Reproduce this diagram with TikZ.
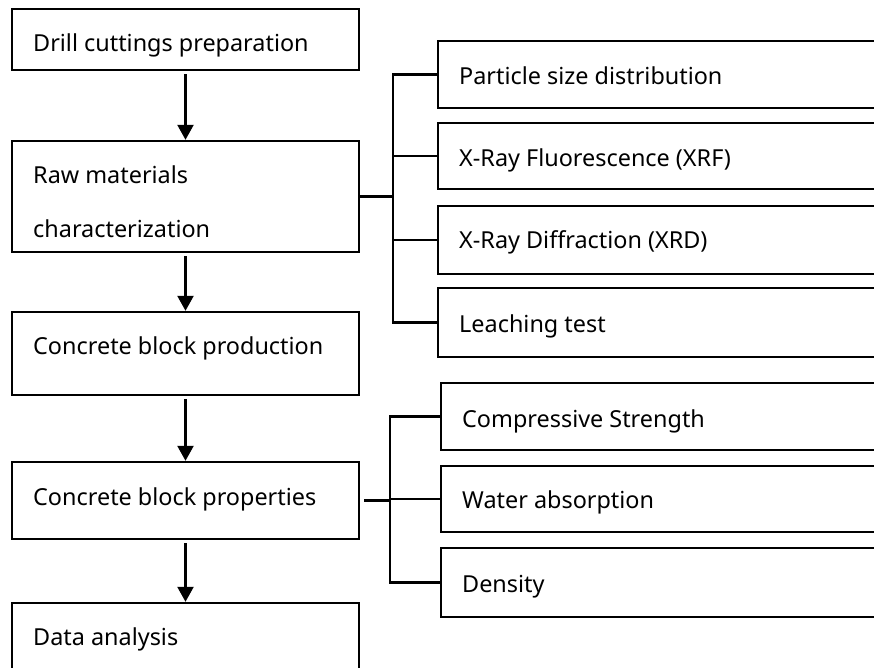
\documentclass[tikz,border=0pt]{standalone}
\usepackage{fontspec}
\setmainfont{Noto Sans}
\usetikzlibrary{arrows.meta}
\tikzset{
  box/.style={draw, line width=2.4pt, rectangle, inner sep=0pt},
  txt/.style={anchor=base west, inner sep=0pt, font=\fontsize{23.4}{28}\selectfont},
  link/.style={line width=2.4pt},
  flow/.style={line width=2.4pt, -{Triangle[width=16pt,length=15pt]}, shorten <=3pt}
}
\begin{document}
\begin{tikzpicture}[x=1pt,y=-1pt]
\useasboundingbox (0,0) rectangle (874,668);
\clip (0,0) rectangle (874,668);
% left column boxes
\node[box, minimum width=347pt, minimum height=61pt] (b1) at (185.5,39.5) {};
\node[box, minimum width=347pt, minimum height=111pt] (b2) at (185.5,196.5) {};
\node[box, minimum width=347pt, minimum height=83pt] (b3) at (185.5,353.5) {};
\node[box, minimum width=347pt, minimum height=77pt] (b4) at (185.5,500.5) {};
\node[box, minimum width=347pt, minimum height=100pt] (b5) at (185.5,653) {};
\node[txt] (t1) at (33,52) {Drill cuttings preparation};
\node[txt] (t2a) at (33,184) {Raw materials};
\node[txt] (t2b) at (33,237) {characterization};
\node[txt] (t3) at (33,354) {Concrete block production};
\node[txt] (t4) at (33,505) {Concrete block properties};
\node[txt] (t5) at (33,645) {Data analysis};
% right group 1
\node[box, minimum width=480pt, minimum height=67pt] (r1) at (678,74.5) {};
\node[box, minimum width=480pt, minimum height=66pt] (r2) at (678,156) {};
\node[box, minimum width=480pt, minimum height=68pt] (r3) at (678,240) {};
\node[box, minimum width=480pt, minimum height=69pt] (r4) at (678,322.5) {};
\node[txt] (s1) at (459,85) {Particle size distribution};
\node[txt] (s2) at (459,167) {X-Ray Fluorescence (XRF)};
\node[txt] (s3) at (459,248) {X-Ray Diffraction (XRD)};
\node[txt] (s4) at (459,332) {Leaching test};
% right group 2
\node[box, minimum width=480pt, minimum height=67pt] (r5) at (681,416.5) {};
\node[box, minimum width=480pt, minimum height=66pt] (r6) at (681,499) {};
\node[box, minimum width=480pt, minimum height=69pt] (r7) at (681,582.5) {};
\node[txt] (s5) at (462,427) {Compressive Strength};
\node[txt] (s6) at (462,508) {Water absorption};
\node[txt] (s7) at (462,592) {Density};
% flow arrows
\draw[flow] (b1) -- (b2);
\draw[flow] (b2) -- (b3);
\draw[flow] (b3) -- (b4);
\draw[flow] (b4) -- (b5);
% bracket 1
\coordinate (j1) at (393,196.5);
\draw[link] (b2.east) -- (j1);
\draw[link] (r1.west) -- (r1.west -| j1) -- (r4.west -| j1) -- (r4.west);
\draw[link] (r2.west -| j1) -- (r2.west);
\draw[link] (r3.west -| j1) -- (r3.west);
% bracket 2
\coordinate (j2) at (390,500.5);
\draw[link, shorten <=4pt] (b4.east) -- (j2);
\draw[link] (r5.west) -- (r5.west -| j2) -- (r7.west -| j2) -- (r7.west);
\draw[link] (r6.west -| j2) -- (r6.west);
\end{tikzpicture}
\end{document}
